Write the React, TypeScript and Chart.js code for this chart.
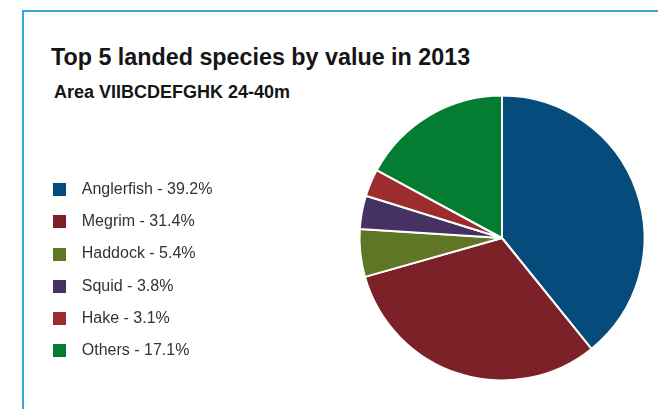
import React, { useEffect, useRef } from 'react';
import { Chart, registerables } from 'chart.js';

Chart.register(...registerables);

const TITLE = 'Top 5 landed species by value in 2013';
const SUBTITLE = 'Area VIIBCDEFGHK 24-40m';
const species = ['Anglerfish', 'Megrim', 'Haddock', 'Squid', 'Hake', 'Others'];
const shares = [39.2, 31.4, 5.4, 3.8, 3.1, 17.1];
const colors = ['#054B7B', '#7B2127', '#5F7626', '#453262', '#9B2D2E', '#047D32'];

const FONT = "'Liberation Sans', Arial, sans-serif";

function swatch(color: string, size: number): HTMLCanvasElement {
  const c = document.createElement('canvas');
  c.width = size;
  c.height = size;
  const ctx = c.getContext('2d');
  if (ctx) {
    ctx.fillStyle = color;
    ctx.fillRect(0, 0, size, size);
  }
  return c;
}

export default function App() {
  const ref = useRef<HTMLCanvasElement | null>(null);

  useEffect(() => {
    if (!ref.current) return;
    const chart = new Chart(ref.current, {
      type: 'pie',
      data: {
        labels: species,
        datasets: [
          {
            data: shares,
            backgroundColor: colors,
            borderColor: '#ffffff',
            borderWidth: 2,
            radius: 142.5,
            clip: false,
          } as any,
        ],
      },
      options: {
        responsive: false,
        animation: false,
        events: [],
        layout: { padding: { left: 29, top: 101, bottom: 34, right: 0 } },
        plugins: {
          title: { display: false },
          tooltip: { enabled: false },
          legend: {
            position: 'left',
            align: 'end',
            maxWidth: 188,
            labels: {
              usePointStyle: true,
              pointStyleWidth: 28.5,
              padding: 16.25,
              color: '#333333',
              font: { family: FONT, size: 16 },
              generateLabels: () =>
                species.map((s, i) => ({
                  text: `${s} - ${shares[i].toFixed(1)}%`,
                  fillStyle: colors[i],
                  strokeStyle: colors[i],
                  lineWidth: 0,
                  pointStyle: swatch(colors[i], 13),
                  hidden: false,
                  index: i,
                  fontColor: '#333333',
                })) as any,
            },
          },
        },
      },
    });
    return () => chart.destroy();
  }, []);

  return (
    <div
      style={{
        position: 'fixed',
        left: 0,
        top: 0,
        width: 658,
        height: 409,
        overflow: 'hidden',
        background: '#ffffff',
      }}
    >
      <div
        style={{
          position: 'absolute',
          left: 22,
          top: 10,
          width: 800,
          height: 600,
          borderLeft: '2px solid #35A6D6',
          borderTop: '2px solid #35A6D6',
        }}
      />
      <div
        style={{
          position: 'absolute',
          left: 51,
          top: 45.5,
          fontFamily: FONT,
          fontWeight: 'bold',
          fontSize: 23.3,
          lineHeight: '23px',
          color: '#151515',
          whiteSpace: 'nowrap',
        }}
      >
        {TITLE}
      </div>
      <div
        style={{
          position: 'absolute',
          left: 54,
          top: 83,
          fontFamily: FONT,
          fontWeight: 'bold',
          fontSize: 18,
          lineHeight: '18px',
          color: '#151515',
          whiteSpace: 'nowrap',
        }}
      >
        {SUBTITLE}
      </div>
      <canvas
        ref={ref}
        width={787}
        height={409}
        style={{ position: 'absolute', left: 0, top: 0 }}
      />
    </div>
  );
}
